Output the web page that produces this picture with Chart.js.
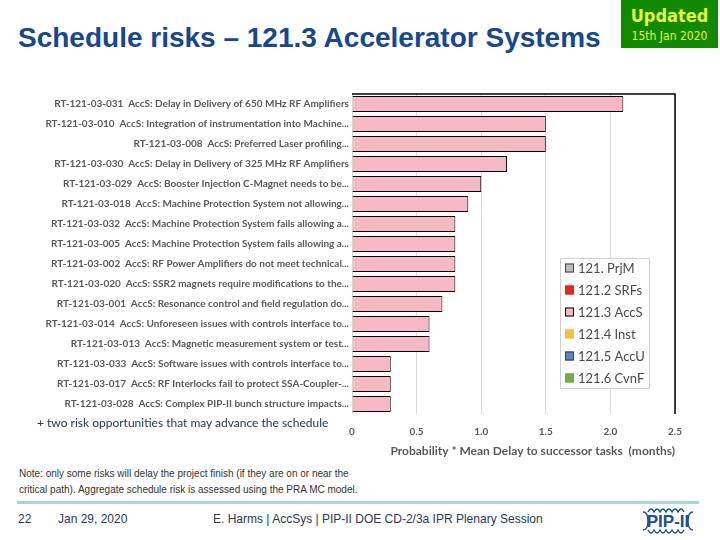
<!DOCTYPE html>
<html lang="en">
<head>
<meta charset="UTF-8">
<title>Schedule risks – 121.3 Accelerator Systems</title>
<script src="https://cdn.jsdelivr.net/npm/chart.js"></script>
<style>
  body { margin: 0; width: 720px; height: 540px; position: relative; overflow: hidden; background: #fff; font-family: 'Liberation Sans', Arial, sans-serif; }
  #title { position: absolute; left: 18px; top: 22px; font-size: 28px; font-weight: bold; color: #17478C; white-space: nowrap; }
  #updated { position: absolute; left: 621px; top: 0; width: 97px; height: 48px; background: #128A00; text-align: center; font-family: 'Liberation Sans Narrow', 'DejaVu Sans Condensed', sans-serif; font-weight: bold; color: #E4F53A; }
  #updated .big { font-size: 18px; margin-top: 5px; }
  #updated .small { font-size: 12px; margin-top: 3px; font-weight: normal; }
  #chartBox { position: absolute; left: 0; top: 85px; width: 705px; height: 377px; }
  #opps { position: absolute; left: 37px; top: 415px; font-family: Lato, sans-serif; font-size: 12px; color: #1F3864; white-space: nowrap; }
  #note { position: absolute; left: 19px; top: 466px; font-family: 'Liberation Sans Narrow', sans-serif; font-size: 10px; line-height: 16px; color: #333; }
  #rule { position: absolute; left: 17px; top: 501px; width: 682px; height: 3px; background: #A9D4DF; }
  .foot { position: absolute; top: 512px; font-family: 'Liberation Sans Narrow', sans-serif; font-size: 12px; color: #2B3A55; white-space: nowrap; }
  #logo { position: absolute; left: 634px; top: 504px; width: 68px; height: 34px; }
</style>
</head>
<body>
<div id="title">Schedule risks – 121.3 Accelerator Systems</div>
<div id="updated"><div class="big">Updated</div><div class="small">15th Jan 2020</div></div>

<div id="chartBox"><canvas id="riskChart"></canvas></div>
<div id="opps">+ two risk opportunities that may advance the schedule</div>

<div id="note">Note: only some risks will delay the project finish (if they are on or near the<br>critical path). Aggregate schedule risk is assessed using the PRA MC model.</div>
<div id="rule"></div>
<div class="foot" style="left:18px">22</div>
<div class="foot" style="left:58px">Jan 29, 2020</div>
<div class="foot" style="left:213px">E. Harms | AccSys | PIP-II DOE CD-2/3a IPR Plenary Session</div>
<svg id="logo" viewBox="0 0 68 34">
  <path d="M14 8 q3 -6 6 0 q3 -6 6 0 q3 -6 6 0 q3 -6 6 0 q3 -6 6 0 q3 -6 6 0" fill="none" stroke="#1C4F96" stroke-width="1.4"/>
  <path d="M14 26 q3 6 6 0 q3 6 6 0 q3 6 6 0 q3 6 6 0 q3 6 6 0 q3 6 6 0" fill="none" stroke="#1C4F96" stroke-width="1.4"/>
  <path d="M9 8 q5 0 5 9 q0 9 -5 9 M59 8 q-5 0 -5 9 q0 9 5 9" fill="none" stroke="#1C4F96" stroke-width="1.4"/>
  <text x="34" y="23" text-anchor="middle" font-family="Liberation Sans Narrow, sans-serif" font-weight="bold" font-size="17" fill="#1C4F96">PIP-II</text>
</svg>

<script>
// risk labels, top to bottom
const riskLabels = [
  "RT-121-03-031  AccS: Delay in Delivery of 650 MHz RF Amplifiers",
  "RT-121-03-010  AccS: Integration of instrumentation into Machine...",
  "RT-121-03-008  AccS: Preferred Laser profiling...",
  "RT-121-03-030  AccS: Delay in Delivery of 325 MHz RF Amplifiers",
  "RT-121-03-029  AccS: Booster Injection C-Magnet needs to be...",
  "RT-121-03-018  AccS: Machine Protection System not allowing...",
  "RT-121-03-032  AccS: Machine Protection System fails allowing a...",
  "RT-121-03-005  AccS: Machine Protection System fails allowing a...",
  "RT-121-03-002  AccS: RF Power Amplifiers do not meet technical...",
  "RT-121-03-020  AccS: SSR2 magnets require modifications to the...",
  "RT-121-03-001  AccS: Resonance control and field regulation do...",
  "RT-121-03-014  AccS: Unforeseen issues with controls interface to...",
  "RT-121-03-013  AccS: Magnetic measurement system or test...",
  "RT-121-03-033  AccS: Software issues with controls interface to...",
  "RT-121-03-017  AccS: RF Interlocks fail to protect SSA-Coupler-...",
  "RT-121-03-028  AccS: Complex PIP-II bunch structure impacts..."
];

// probability * mean delay (months)
const accsValues = [2.1, 1.5, 1.5, 1.2, 1.0, 0.9, 0.8, 0.8, 0.8, 0.8, 0.7, 0.6, 0.6, 0.3, 0.3, 0.3];

const seriesNames = ["121. PrjM", "121.2 SRFs", "121.3 AccS", "121.4 Inst", "121.5 AccU", "121.6 CvnF"];
const seriesColors = ["#BFBFBF", "#E8281E", "#F4B9C4", "#F7BE45", "#5A86C4", "#72AB47"];
const seriesBorders = ["#404040", "#E8281E", "#000000", "#F7BE45", "#404040", "#72AB47"];

const xTicks = [0, 0.5, 1, 1.5, 2, 2.5];

const datasets = seriesNames.map((name, i) => ({
  label: name,
  data: name === "121.3 AccS" ? accsValues : [],
  backgroundColor: seriesColors[i],
  borderColor: seriesBorders[i],
  borderWidth: name === "121.3 AccS" ? { top: 1, bottom: 1, right: 1, left: 0 } : 0,
  borderSkipped: false,
  barPercentage: 0.8,
  categoryPercentage: 1
}));

// top and right frame of the plot area
const framePlugin = {
  id: 'frame',
  afterDatasetsDraw(chart) {
    const a = chart.chartArea, ctx = chart.ctx;
    ctx.save();
    ctx.strokeStyle = '#000';
    ctx.lineWidth = 1.5;
    ctx.beginPath();
    ctx.moveTo(a.left, a.top);
    ctx.lineTo(a.right, a.top);
    ctx.lineTo(a.right, a.bottom);
    ctx.stroke();
    ctx.restore();
  }
};

// legend box inside the plot area
const insideLegend = {
  id: 'insideLegend',
  afterDraw(chart) {
    const ctx = chart.ctx, a = chart.chartArea;
    const x0 = chart.scales.x.getPixelForValue(1.61);
    const y0 = a.top + 164;
    const w = 89, rowH = 22;
    const h = rowH * chart.data.datasets.length - 2;
    ctx.save();
    ctx.fillStyle = '#fff';
    ctx.fillRect(x0, y0, w, h);
    ctx.strokeStyle = '#D0D0D0';
    ctx.lineWidth = 1;
    ctx.strokeRect(x0 + 0.5, y0 + 0.5, w, h);
    ctx.font = '13px Lato, sans-serif';
    ctx.textBaseline = 'middle';
    chart.data.datasets.forEach((ds, i) => {
      const cy = y0 + 10 + i * rowH;
      ctx.fillStyle = ds.backgroundColor;
      ctx.fillRect(x0 + 5, cy - 4.5, 9, 9);
      ctx.strokeStyle = ds.borderColor;
      ctx.strokeRect(x0 + 5.5, cy - 4, 8, 8);
      ctx.fillStyle = '#4A4A4A';
      ctx.fillText(ds.label, x0 + 18, cy + 1);
    });
    ctx.restore();
  }
};

new Chart(document.getElementById('riskChart'), {
  type: 'bar',
  data: { labels: riskLabels, datasets: datasets },
  options: {
    indexAxis: 'y',
    responsive: true,
    maintainAspectRatio: false,
    animation: false,
    layout: { padding: { top: 6, right: 30, left: 0, bottom: 0 } },
    plugins: { legend: { display: false }, tooltip: { enabled: false } },
    scales: {
      x: {
        stacked: true,
        min: 0, max: 2.5,
        afterBuildTicks(scale) { scale.ticks = xTicks.map(v => ({ value: v })); },
        afterFit(scale) { scale.height = 48; },
        ticks: { color: '#595959', font: { family: 'Lato', size: 10, weight: 'bold' }, padding: 12 },
        grid: { color: '#D9D9D9', drawTicks: false },
        border: { display: false },
        title: { display: true, align: 'end', text: 'Probability * Mean Delay to successor tasks  (months)', color: '#595959', font: { family: 'Lato', size: 12, weight: 'bold' }, padding: { top: 0, bottom: 4 } }
      },
      y: {
        stacked: true,
        afterFit(scale) { scale.width = 352; },
        ticks: { color: '#595959', font: { family: 'Lato', size: 10, weight: 'bold' }, padding: 3, autoSkip: false },
        grid: { display: false, drawTicks: false },
        border: { display: false }
      }
    }
  },
  plugins: [framePlugin, insideLegend]
});
</script>
</body>
</html>
